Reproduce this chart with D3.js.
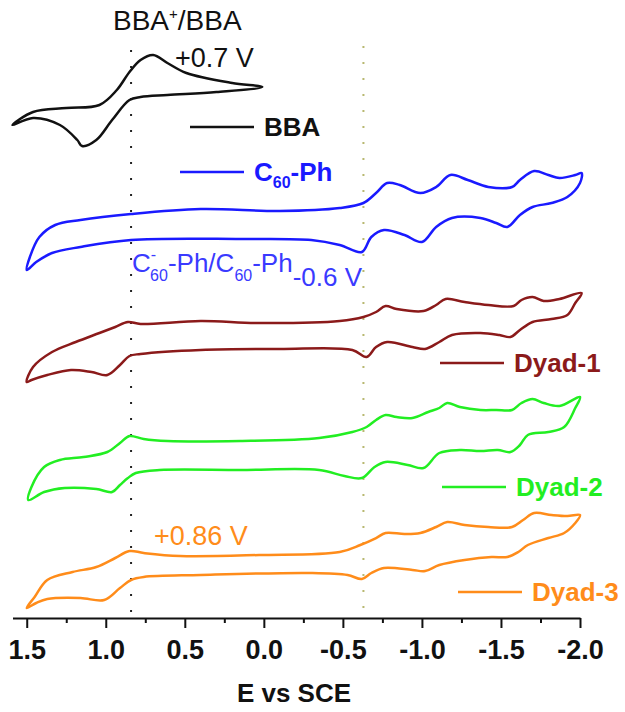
<!DOCTYPE html>
<html><head><meta charset="utf-8">
<script src="https://cdn.jsdelivr.net/npm/d3@7"></script>
<style>html,body{margin:0;padding:0;background:#fff;}svg{display:block;font-family:"Liberation Sans",Arial,sans-serif;}</style>
</head><body><svg id="chart" width="625" height="712"></svg>
<script>
// ---- data (potential E in V vs SCE, current in offset arbitrary units) ----
const bbaE = [0.01,0.20,0.49,0.61,0.70,0.78,0.85,0.93,1.04,1.25,1.46,1.59,1.46,1.29,1.18,1.15,1.06,0.96,0.85,0.78,0.61,0.30];
const bbaI = [53.1,53.5,54.5,55.5,56.3,55.8,54.6,52.8,51.3,51.0,50.6,49.3,50.0,49.3,47.8,47.2,47.8,49.8,51.8,52.1,52.3,52.6];

const c60E = [1.50,1.48,1.42,1.32,1.16,0.84,0.40,-0.10,-0.48,-0.63,-0.71,-0.78,-0.86,-0.99,-1.09,-1.18,-1.29,-1.42,-1.57,-1.62,-1.71,-1.80,-1.87,-1.97,-2.01,
  -2.00,-1.92,-1.82,-1.70,-1.62,-1.54,-1.47,-1.37,-1.19,-1.09,-1.00,-0.89,-0.76,-0.68,-0.62,-0.48,-0.30,0.15,0.84,1.16,1.34,1.44];
const c60I = [34.8,36.1,38.1,39.3,39.8,40.4,40.9,40.7,41.0,41.5,42.5,43.5,43.3,42.5,43.1,44.3,43.8,43.1,43.1,43.8,44.7,44.3,44.0,44.3,44.5,
  43.5,42.1,41.5,41.1,40.3,39.1,39.5,40.0,40.0,39.1,37.6,38.3,38.8,38.1,36.6,37.3,37.8,37.9,37.8,37.1,36.5,35.6];

const dyad1E = [1.50,1.46,1.34,1.19,1.04,0.94,0.86,0.78,0.40,0.03,-0.48,-0.63,-0.71,-0.77,-0.84,-1.01,-1.09,-1.15,-1.27,-1.42,-1.58,-1.63,-1.70,-1.77,-1.87,-2.01,
  -1.97,-1.92,-1.82,-1.70,-1.62,-1.56,-1.49,-1.37,-1.19,-1.11,-1.02,-0.94,-0.78,-0.71,-0.65,-0.56,-0.10,0.40,0.78,0.85,0.91,0.99,1.09,1.22,1.37,1.47];
const dyad1I = [23.6,25.1,26.6,27.6,28.5,29.1,29.6,29.4,29.7,29.5,29.7,30.1,30.6,31.2,30.9,30.7,31.3,31.9,31.6,31.3,31.2,31.8,32.1,31.7,31.9,32.5,
  31.5,30.3,29.9,29.6,28.8,28.1,28.3,28.5,28.3,27.6,26.9,27.1,27.6,27.1,26.1,26.8,26.9,26.8,26.4,26.2,25.3,24.3,24.6,24.8,24.3,23.8];

const dyad2E = [1.49,1.47,1.39,1.29,1.14,0.99,0.91,0.85,0.76,0.61,0.15,-0.35,-0.56,-0.65,-0.71,-0.77,-0.84,-0.94,-1.04,-1.11,-1.16,-1.24,-1.37,-1.47,-1.57,-1.63,-1.70,-1.77,-1.87,-2.00,
  -1.97,-1.90,-1.80,-1.67,-1.62,-1.56,-1.48,-1.37,-1.24,-1.11,-1.01,-0.91,-0.77,-0.70,-0.62,-0.51,-0.35,0.15,0.66,0.81,0.86,0.91,0.96,1.06,1.26,1.39];
const dyad2I = [11.8,13.1,15.1,15.8,16.1,16.6,17.5,18.2,17.9,17.7,17.7,18.0,18.6,19.1,19.8,20.3,20.1,20.0,20.6,21.0,21.5,21.1,20.8,20.8,20.8,21.5,21.9,21.5,21.2,22.1,
  21.0,19.1,18.6,18.3,17.3,16.6,16.8,16.7,16.8,16.5,15.0,15.3,15.6,15.1,14.0,14.2,14.8,14.8,14.8,14.5,14.0,13.3,12.6,12.9,13.0,12.6];

const dyad3E = [1.50,1.45,1.37,1.21,1.06,0.94,0.85,0.76,0.53,0.03,-0.48,-0.61,-0.71,-0.77,-0.89,-0.99,-1.09,-1.16,-1.27,-1.42,-1.57,-1.64,-1.71,-1.82,-1.92,-2.00,
  -1.97,-1.90,-1.80,-1.67,-1.61,-1.54,-1.44,-1.27,-1.11,-1.02,-0.94,-0.76,-0.68,-0.62,-0.53,-0.30,0.40,0.76,0.84,0.91,1.01,1.16,1.37,1.44];
const dyad3I = [1.0,2.1,3.8,4.6,5.1,6.0,6.7,6.5,6.2,6.3,6.6,7.3,8.0,8.5,8.4,8.5,9.1,9.6,9.3,9.1,9.1,9.8,10.5,10.3,10.2,10.3,
  9.5,8.5,8.0,7.3,6.6,6.1,6.1,5.8,5.3,4.7,4.8,5.0,4.5,3.9,4.3,4.5,4.3,4.1,3.8,3.0,1.8,2.0,1.9,1.5];

const seriesNames = ["BBA","C60-Ph","Dyad-1","Dyad-2","Dyad-3"];
const seriesColors = ["#111111","#1a1aff","#8b1a1a","#22ee22","#ff8c1a"];
const guideE = [0.84, -0.63];
const guideColors = ["#222222","#b8b870"];
const tickValues = [1.5,1.0,0.5,0.0,-0.5,-1.0,-1.5,-2.0];
const tickLabels = ["1.5","1.0","0.5","0.0","-0.5","-1.0","-1.5","-2.0"];
const minorTicks = [1.25,0.75,0.25,-0.25,-0.75,-1.25,-1.75];

// ---- chart ----
const svg = d3.select("#chart");
const x = d3.scaleLinear().domain([1.59,-2.0]).range([12.5,580]);
const y = d3.scaleLinear().domain([0,60]).range([618,18]);

// guide dotted lines
svg.selectAll("line.guide").data(guideE).join("line")
  .attr("class","guide")
  .attr("x1",d=>x(d)).attr("x2",d=>x(d))
  .attr("y1",(d,i)=>y(i===0?56.8:57.2)).attr("y2",y(0))
  .attr("stroke",(d,i)=>guideColors[i]).attr("stroke-width",2)
  .attr("stroke-dasharray","2 14");

const curves = [[bbaE,bbaI],[c60E,c60I],[dyad1E,dyad1I],[dyad2E,dyad2I],[dyad3E,dyad3I]];
const line = d3.line().x(d=>x(d[0])).y(d=>y(d[1])).curve(d3.curveCatmullRomClosed.alpha(0.5));
curves.forEach((c,i)=>{
  const pts = c[0].map((e,j)=>[e,c[1][j]]);
  svg.append("path").attr("d",line(pts)).attr("fill","none")
    .attr("stroke",seriesColors[i]).attr("stroke-width",2.5).attr("stroke-linejoin","round");
});

// axis
const axis = d3.axisBottom(x).tickValues(tickValues).tickFormat((d,i)=>tickLabels[i])
  .tickSize(10).tickSizeOuter(0).tickPadding(12);
const gA = svg.append("g").attr("transform","translate(0,618)").call(axis);
gA.select(".domain").attr("stroke","#111").attr("stroke-width",2);
gA.selectAll(".tick line").attr("stroke","#111").attr("stroke-width",2);
gA.selectAll(".tick text").attr("font-size",27).attr("font-weight","bold").attr("fill","#111")
  .attr("font-family","'Liberation Sans',Arial,sans-serif");
const minor = d3.axisBottom(x).tickValues(minorTicks).tickSize(5).tickFormat("").tickSizeOuter(0);
const gM = svg.append("g").attr("transform","translate(0,618)").call(minor);
gM.select(".domain").remove();
gM.selectAll(".tick line").attr("stroke","#111").attr("stroke-width",2);

svg.append("text").attr("x",294).attr("y",702).attr("text-anchor","middle")
  .attr("font-size",26).attr("font-weight","bold").attr("fill","#111").text("E vs SCE");

// legends
const legendPos = [[190,127],[180,172],[440,363],[442,487],[458,592]];
legendPos.forEach((p,i)=>{
  svg.append("line").attr("x1",p[0]).attr("x2",p[0]+64).attr("y1",p[1]).attr("y2",p[1])
    .attr("stroke",seriesColors[i]).attr("stroke-width",2.4);
  const t = svg.append("text").attr("x",p[0]+74).attr("y",p[1]+9)
    .attr("font-size",26).attr("font-weight","bold").attr("fill",seriesColors[i]);
  if(i===1){
    t.append("tspan").text("C");
    t.append("tspan").attr("font-size",16).attr("dy",7).text("60");
    t.append("tspan").attr("dy",-7).text("-Ph");
  } else t.text(seriesNames[i]);
});

// annotations
const a1 = svg.append("text").attr("x",113).attr("y",30).attr("font-size",28).attr("fill","#111");
a1.append("tspan").text("BBA");
a1.append("tspan").attr("font-size",15).attr("dy",-11).text("+");
a1.append("tspan").attr("dy",11).text("/BBA");
svg.append("text").attr("x",175).attr("y",67).attr("font-size",27).attr("fill","#111").text("+0.7 V");

const a2 = svg.append("text").attr("x",132).attr("y",272).attr("font-size",26).attr("fill","#3a3aff");
a2.append("tspan").text("C");
a2.append("tspan").attr("font-size",16).attr("dy",-12).text("-");
a2.append("tspan").attr("font-size",16).attr("dx",-6).attr("dy",21).text("60");
a2.append("tspan").attr("dy",-9).text("-Ph/C");
a2.append("tspan").attr("font-size",16).attr("dy",9).text("60");
a2.append("tspan").attr("dy",-9).text("-Ph");
a2.append("tspan").attr("dy",14).attr("font-size",26).text("-0.6 V");

svg.append("text").attr("x",154).attr("y",545).attr("font-size",27).attr("fill","#ff8c1a").text("+0.86 V");
</script></body></html>
